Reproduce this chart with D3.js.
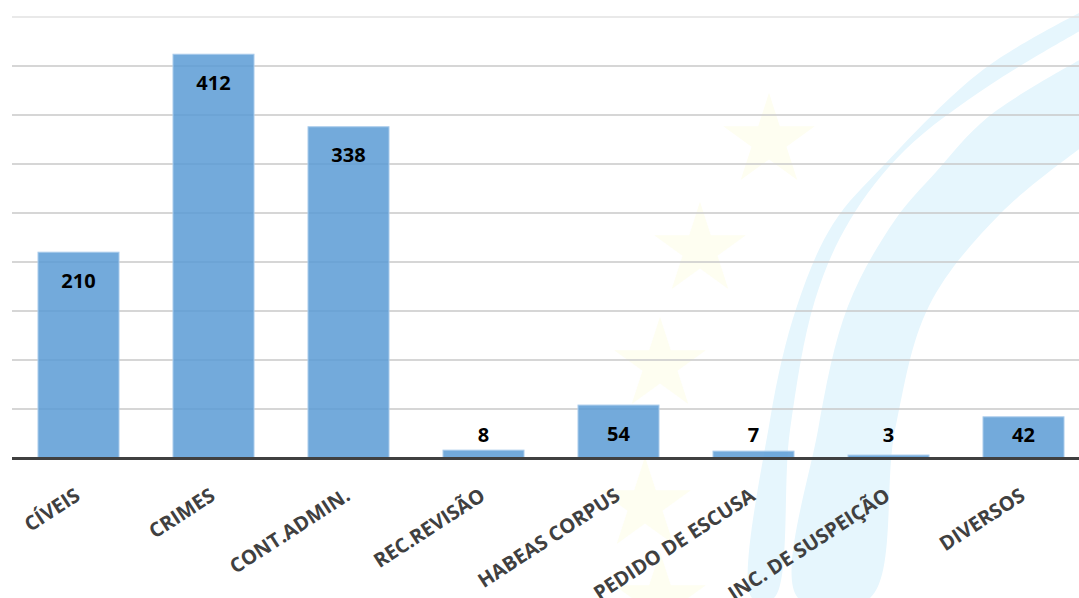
<!DOCTYPE html>
<html><head><meta charset="utf-8">
<script src="https://cdn.jsdelivr.net/npm/d3@7"></script>
<style>
html,body{margin:0;padding:0;background:#fff;}
svg{display:block;}
</style></head>
<body>
<svg id="chart" width="1079" height="598"></svg>
<script>
const categories = ["CÍVEIS","CRIMES","CONT.ADMIN.","REC.REVISÃO","HABEAS CORPUS","PEDIDO DE ESCUSA","INC. DE SUSPEIÇÃO","DIVERSOS"];
const values = [210, 412, 338, 8, 54, 7, 3, 42];
const gridTicks = [0,50,100,150,200,250,300,350,400,450];

const W = 1079, H = 598;
const svg = d3.select("#chart");

// faint background watermark (decorative)
const deco = svg.append("g");
const line = d3.line().curve(d3.curveCatmullRom);
const band1 = [[1085,10],[984,69],[884,165],[833,224],[797,306],[770,420],[752,598],[774,598],[790,430],[815,300],[850,220],[905,150],[990,85],[1085,28]];
const band2 = [[1085,57],[988,117],[936,172],[895,220],[848,306],[818,430],[798,598],[870,598],[895,430],[929,306],[1001,213],[1085,145]];
deco.append("path").attr("d", line(band1)+"Z").attr("fill","#e6f6fd");
deco.append("path").attr("d", line(band2)+"Z").attr("fill","#e6f6fd");
const star = d3.symbol().type(d3.symbolStar).size(2600);
[[769,141],[700,250],[660,365],[645,505],[660,600]].forEach(p=>{
  deco.append("path").attr("d", star()).attr("transform",`translate(${p[0]},${p[1]})`).attr("fill","#fefef1");
});

const x = d3.scaleBand().domain(categories).range([11, 1091]).paddingInner(0.4).paddingOuter(0.2);
const y = d3.scaleLinear().domain([0,450]).range([458, 17]);

// gridlines
svg.append("g").selectAll("line").data(gridTicks.filter(d=>d>0)).join("line")
  .attr("x1",12).attr("x2",W).attr("y1",d=>y(d)).attr("y2",d=>y(d))
  .attr("stroke",d=>d===450?"#e2e2e2":"#c9c9c9").attr("stroke-width",1.5);

// bars
svg.append("g").selectAll("rect").data(values).join("rect")
  .attr("x",(d,i)=>x(categories[i])).attr("width",x.bandwidth())
  .attr("y",d=>y(d)).attr("height",d=>y(0)-y(d))
  .attr("fill","#5b9bd5").attr("fill-opacity",0.85)
  .attr("stroke","#a9cbeb").attr("stroke-width",1);

// baseline axis
svg.append("line").attr("x1",12).attr("x2",W).attr("y1",y(0)+0.5).attr("y2",y(0)+0.5)
  .attr("stroke","#404040").attr("stroke-width",3);

// value labels
svg.append("g").selectAll("text").data(values).join("text")
  .attr("x",(d,i)=>x(categories[i])+x.bandwidth()/2)
  .attr("y",d=>Math.min(y(d)+28, 434))
  .attr("text-anchor","middle").attr("dominant-baseline","central")
  .style("font-family","'Open Sans', Lato, sans-serif").style("font-weight","700")
  .style("font-size","20px").attr("fill","#000")
  .text(d=>d);

// category labels
svg.append("g").selectAll("text").data(categories).join("text")
  .attr("transform",d=>`translate(${x(d)+x.bandwidth()/2+3},499) rotate(-33)`)
  .attr("text-anchor","end")
  .style("font-family","'Open Sans', Lato, sans-serif").style("font-weight","700")
  .style("font-size","20px").attr("fill","#404040")
  .text(d=>d);
</script>
</body></html>
